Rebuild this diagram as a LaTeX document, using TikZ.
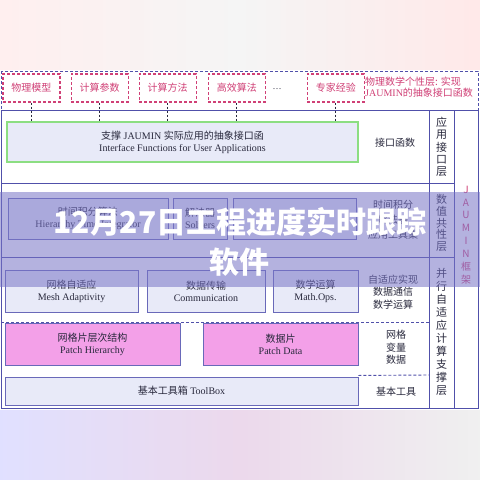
\documentclass[tikz,border=0pt]{standalone}
\usepackage{fontspec}
\setmainfont{Liberation Serif}
\newfontfamily\cjk{Noto Sans CJK SC}
\usetikzlibrary{positioning}
\definecolor{frameblue}{RGB}{80, 80, 170}
\definecolor{modelpink}{RGB}{208, 64, 118}
\definecolor{ifacegreen}{RGB}{140, 222, 130}
\definecolor{boxfill}{RGB}{232, 234, 248}
\definecolor{boxline}{RGB}{105, 105, 185}
\definecolor{patchpink}{RGB}{243, 160, 232}
\definecolor{inktext}{RGB}{40, 40, 60}
\definecolor{bandviolet}{RGB}{120, 116, 198}
\tikzset{
 topbox/.style={
 rectangle,
 draw=modelpink,
 dash pattern=on 3pt off 2pt,
 line width=1.1pt,
 fill=white,
 text=modelpink,
 minimum width=57pt,
 minimum height=28pt,
 inner sep=0pt,
 font=\cjk\fontsize{10}{12}\selectfont
 },
 unitbox/.style={
 rectangle,
 draw=boxline,
 line width=0.9pt,
 fill=boxfill,
 text=inktext,
 align=center,
 inner sep=0pt,
 font=\fontsize{10}{12}\selectfont
 },
 patchbox/.style={unitbox, fill=patchpink},
 sidelabel/.style={
 text=inktext,
 align=center,
 inner sep=0pt,
 font=\cjk\fontsize{10}{12.5}\selectfont
 },
 layerlabel/.style={
 text=inktext,
 align=center,
 inner sep=0pt,
 font=\cjk\fontsize{11}{13}\selectfont
 },
 frameline/.style={draw=frameblue, line width=0.9pt},
 sepdash/.style={draw=frameblue, line width=0.9pt, dash pattern=on 3pt off 2pt},
 linkdash/.style={draw=inktext, line width=0.9pt, dash pattern=on 2pt off 2pt}
}

\begin{document}
\begin{tikzpicture}[x=1pt, y=-1pt, node distance=10pt]
 \useasboundingbox (0,0) rectangle (480,480);
 % backdrop
 \shade[left color=pink!25, right color=pink!35, middle color=gray!8] (0,0) rectangle (480,70);
 \fill[white] (0,70) rectangle (480,410);
 \shade[left color=blue!12, right color=gray!12, middle color=violet!15] (0,410) rectangle (480,480);

 % physics / maths layer
 \draw[frameline, dash pattern=on 3pt off 2pt] (1,71) rectangle (478,110);
 \node[topbox] (phys) at (31.5,88) {物理模型};
 \node[topbox, right=of phys] (param) {计算参数};
 \node[topbox, right=of param] (method) {计算方法};
 \node[topbox, right=11pt of method] (effic) {高效算法};
 \node[topbox, right=41pt of effic] (expert) {专家经验};
 \node[text=inktext, font=\fontsize{9}{10}\selectfont] (dots) at (277,89) {\dots};
 \node[anchor=west, align=left, inner sep=0pt, text=modelpink,
 font=\fontsize{10}{11}\selectfont] (mathlabel) at (365,87)
 {{\cjk 物理数学个性层: 实现}\\JAUMIN{\cjk 的抽象接口函数}};

 % framework frame
 \draw[frameline] (1,110) rectangle (478,408);
 \draw[frameline] (429,110) -- (429,408);
 \draw[frameline] (454,110) -- (454,408);
 \draw[frameline] (1,183) -- (454,183);
 \draw[frameline] (1,257) -- (454,257);

 % interface layer
 \node[unitbox, draw=ifacegreen, line width=1.2pt, minimum width=351pt, minimum height=40pt]
 (iface) at (182.5,142) {{\cjk 支撑} JAUMIN {\cjk 实际应用的抽象接口函}\\Interface Functions for User Applications};
 \node[sidelabel] (ifacelabel) at (395,143) {接口函数};
 \foreach \src in {phys, param, method, effic, expert}
 \draw[linkdash] (\src.south) -- (\src.south |- iface.north);

 % numeric layer
 \node[unitbox, minimum width=160pt, minimum height=41pt] (integ) at (88,218.5)
 {{\cjk 时间积分算法}\\Hierarchy Time Integrator};
 \node[unitbox, minimum width=54pt, minimum height=41pt] (solver) at (200,218.5)
 {{\cjk 解法器}\\Solvers};
 \node[unitbox, minimum width=123pt, minimum height=41pt] (tools) at (294.5,218.5) {};
 \node[sidelabel, font=\cjk\fontsize{10}{15}\selectfont] (numlabel) at (393,220) {时间积分\\解法器\\应用工具集};

 % parallel adaptive layer
 \node[unitbox, minimum width=133pt, minimum height=42pt] (adapt) at (71.5,291)
 {{\cjk 网格自适应}\\Mesh Adaptivity};
 \node[unitbox, minimum width=118pt, minimum height=42pt] (comm) at (206,291)
 {{\cjk 数据传输}\\Communication};
 \node[unitbox, minimum width=85pt, minimum height=42pt] (mathops) at (315.5,291)
 {{\cjk 数学运算}\\Math.Ops.};
 \node[sidelabel] (adaptlabel) at (393,292) {自适应实现\\数据通信\\数学运算};
 \draw[sepdash] (1,322) -- (429,322);
 \node[patchbox, minimum width=175pt, minimum height=42pt] (hier) at (92.5,344)
 {{\cjk 网格片层次结构}\\Patch Hierarchy};
 \node[patchbox, minimum width=155pt, minimum height=42pt] (pdata) at (280.5,344)
 {{\cjk 数据片}\\Patch Data};
 \node[sidelabel] (varlabel) at (396,347.5) {网格\\变量\\数据};
 \draw[sepdash] (pdata.south east) ++(0,10) -- (429,375);
 \node[unitbox, minimum width=353pt, minimum height=28pt] (toolbox) at (181.5,391)
 {{\cjk 基本工具箱} ToolBox};
 \node[sidelabel] (toollabel) at (396,392) {基本工具};

 % layer names
 \node[layerlabel, font=\cjk\fontsize{11}{12.3}\selectfont] (applayer) at (441.5,147) {应\\用\\接\\口\\层};
 \node[layerlabel, font=\cjk\fontsize{11}{11.8}\selectfont] (numlayer) at (441.5,223) {数\\值\\共\\性\\层};
 \node[layerlabel] (parlayer) at (441.5,332) {并\\行\\自\\适\\应\\计\\算\\支\\撑\\层};
 \node[layerlabel, text=modelpink, font=\cjk\fontsize{10}{12.9}\selectfont] (jaumin) at (466,235)
 {J\\A\\U\\M\\I\\N\\框\\架};

 % title band
 \fill[bandviolet, opacity=0.55] (0,192) rectangle (480,287);
 \node[text=white, align=center, font=\cjk\bfseries\fontsize{30}{40}\selectfont] (title) at (240,242)
 {12月27日工程进度实时跟踪\\软件};
\end{tikzpicture}
\end{document}
